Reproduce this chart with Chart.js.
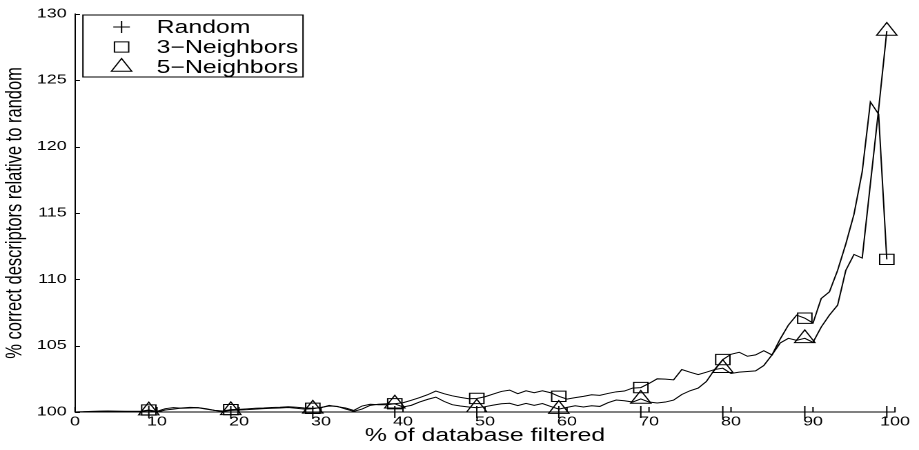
<!DOCTYPE html>
<html>
<head>
<meta charset="utf-8">
<script src="https://cdn.jsdelivr.net/npm/chart.js@4.4.1/dist/chart.umd.min.js"></script>
<style>
html, body { margin: 0; padding: 0; background: #fff; }
</style>
</head>
<body>
<!-- drawn on a narrower canvas and shown wider, so text and markers come out horizontally stretched -->
<canvas id="c" width="666" height="450" style="width:919px;height:450px;display:block"></canvas>
<script>
// ---- data ----
const percentFiltered = [
  0, 1, 2, 3, 4, 5, 6, 7, 8, 9,
  10, 11, 12, 13, 14, 15, 16, 17, 18, 19,
  20, 21, 22, 23, 24, 25, 26, 27, 28, 29,
  30, 31, 32, 33, 34, 35, 36, 37, 38, 39,
  40, 41, 42, 43, 44, 45, 46, 47, 48, 49,
  50, 51, 52, 53, 54, 55, 56, 57, 58, 59,
  60, 61, 62, 63, 64, 65, 66, 67, 68, 69,
  70, 71, 72, 73, 74, 75, 76, 77, 78, 79,
  80, 81, 82, 83, 84, 85, 86, 87, 88, 89,
  90, 91, 92, 93, 94, 95, 96, 97, 98, 99
];

const randomBaseline = [
  100, 100, 100, 100, 100, 100, 100, 100, 100, 100,
  100, 100, 100, 100, 100, 100, 100, 100, 100, 100,
  100, 100, 100, 100, 100, 100, 100, 100, 100, 100,
  100, 100, 100, 100, 100, 100, 100, 100, 100, 100,
  100, 100, 100, 100, 100, 100, 100, 100, 100, 100,
  100, 100, 100, 100, 100, 100, 100, 100, 100, 100,
  100, 100, 100, 100, 100, 100, 100, 100, 100, 100,
  100, 100, 100, 100, 100, 100, 100, 100, 100, 100,
  100, 100, 100, 100, 100, 100, 100, 100, 100, 100,
  100, 100, 100, 100, 100, 100, 100, 100, 100, 100
];

const threeNeighbors = [
  100.00, 100.02, 100.05, 100.07, 100.08, 100.07, 100.06, 100.05, 100.06, 100.15,
  100.05, 100.25, 100.33, 100.28, 100.30, 100.32, 100.22, 100.12, 100.08, 100.18,
  100.20, 100.24, 100.28, 100.30, 100.34, 100.36, 100.40, 100.36, 100.30, 100.28,
  100.32, 100.50, 100.40, 100.30, 100.12, 100.45, 100.58, 100.55, 100.55, 100.62,
  100.70, 100.88, 101.08, 101.30, 101.58, 101.38, 101.22, 101.10, 101.00, 101.02,
  101.15, 101.35, 101.55, 101.65, 101.38, 101.60, 101.45, 101.60, 101.45, 101.18,
  100.97, 101.08, 101.18, 101.30, 101.25, 101.40, 101.52, 101.58, 101.80, 101.84,
  102.15, 102.50, 102.48, 102.42, 103.20, 103.00, 102.82, 103.00, 103.20, 103.95,
  104.35, 104.50, 104.20, 104.30, 104.62, 104.30, 105.50, 106.55, 107.30, 107.07,
  106.70, 108.55, 109.05, 110.67, 112.66, 114.90, 118.10, 123.36, 122.44, 111.50
];

const fiveNeighbors = [
  100.00, 100.02, 100.03, 100.04, 100.05, 100.04, 100.04, 100.05, 100.05, 100.10,
  100.00, 100.15, 100.22, 100.30, 100.35, 100.33, 100.25, 100.12, 100.05, 100.12,
  100.15, 100.18, 100.22, 100.25, 100.28, 100.30, 100.34, 100.28, 100.22, 100.24,
  100.35, 100.45, 100.42, 100.22, 100.05, 100.22, 100.50, 100.58, 100.62, 100.62,
  100.38, 100.50, 100.75, 100.95, 101.12, 100.80, 100.55, 100.45, 100.38, 100.32,
  100.40, 100.52, 100.62, 100.66, 100.48, 100.65, 100.50, 100.64, 100.42, 100.22,
  100.35, 100.47, 100.38, 100.47, 100.42, 100.70, 100.90, 100.85, 100.75, 100.98,
  100.75, 100.68, 100.75, 100.90, 101.32, 101.60, 101.80, 102.30, 103.20, 103.30,
  102.90, 103.00, 103.05, 103.10, 103.50, 104.30, 105.20, 105.55, 105.40, 105.55,
  105.25, 106.40, 107.30, 108.05, 110.67, 111.87, 111.60, 117.20, 122.80, 128.70
];

// every tenth sample carries a marker
const markerIndices = [9, 19, 29, 39, 49, 59, 69, 79, 89, 99];

const xTickValues = [0, 10, 20, 30, 40, 50, 60, 70, 80, 90, 100];
const yTickValues = [100, 105, 110, 115, 120, 125, 130];

const seriesNames = ['Random', '3\u2212Neighbors', '5\u2212Neighbors'];

// ---- styling ----
const FONT = "'Liberation Sans', Arial, Helvetica, sans-serif";
const INK = '#000';

function markerRadius(r) {
  return (ctx) => markerIndices.includes(ctx.dataIndex) ? r : 0;
}

function lineSeries(label, values, style, r) {
  return {
    label: label,
    data: values,
    borderColor: INK,
    borderWidth: 1,
    backgroundColor: 'rgba(0,0,0,0)',
    pointStyle: style,
    pointRadius: markerRadius(r),
    pointBorderColor: INK,
    pointBackgroundColor: 'rgba(0,0,0,0)',
    pointBorderWidth: 1,
    legendRadius: r,
    tension: 0,
    fill: false,
    clip: false
  };
}

// inward tick marks on both axes
const inwardTicks = {
  id: 'inwardTicks',
  afterDatasetsDraw(chart, args, opts) {
    const { ctx, chartArea, scales } = chart;
    ctx.save();
    ctx.strokeStyle = INK;
    ctx.lineWidth = 1;
    ctx.beginPath();
    scales.x.ticks.forEach(t => {
      const px = scales.x.getPixelForValue(t.value);
      ctx.moveTo(px, chartArea.bottom);
      ctx.lineTo(px, chartArea.bottom - opts.xLen);
    });
    scales.y.ticks.forEach(t => {
      const py = Math.round(scales.y.getPixelForValue(t.value)) + 0.5;
      ctx.moveTo(chartArea.left, py);
      ctx.lineTo(chartArea.left + opts.yLen, py);
    });
    ctx.stroke();
    ctx.restore();
  }
};

// boxed legend in the upper-left corner of the plot
const boxedLegend = {
  id: 'boxedLegend',
  afterDraw(chart, args, opts) {
    const ctx = chart.ctx;
    ctx.save();
    ctx.fillStyle = '#fff';
    ctx.fillRect(opts.left, opts.top, opts.width, opts.height);
    ctx.strokeStyle = INK;
    ctx.lineWidth = 1;
    ctx.strokeRect(opts.left, opts.top, opts.width, opts.height);
    chart.data.datasets.forEach((ds, i) => {
      const y = opts.top + opts.firstRow + i * opts.rowGap;
      ctx.strokeStyle = INK;
      ctx.fillStyle = 'rgba(0,0,0,0)';
      ctx.lineWidth = 1;
      Chart.helpers.drawPoint(ctx, {
        pointStyle: ds.pointStyle,
        radius: ds.legendRadius,
        rotation: 0,
        borderWidth: 1
      }, opts.left + opts.symbolX, y);
      ctx.fillStyle = INK;
      ctx.font = opts.font;
      ctx.textBaseline = 'middle';
      ctx.textAlign = 'left';
      ctx.fillText(ds.label, opts.left + opts.textX, y + 1);
    });
    ctx.restore();
  }
};

new Chart(document.getElementById('c'), {
  type: 'line',
  data: {
    labels: percentFiltered,
    datasets: [
      lineSeries(seriesNames[0], randomBaseline, 'cross', 6),
      lineSeries(seriesNames[1], threeNeighbors, 'rect', 7.3),
      lineSeries(seriesNames[2], fiveNeighbors, 'triangle', 8.5)
    ]
  },
  options: {
    responsive: false,
    devicePixelRatio: 2,
    animation: false,
    events: [],
    layout: { padding: { left: 0, right: 17.4, top: 11, bottom: 0 } },
    plugins: {
      legend: { display: false },
      tooltip: { enabled: false },
      inwardTicks: { xLen: 5, yLen: 3.6 },
      boxedLegend: {
        left: 60.1, top: 15, width: 159.5, height: 62,
        firstRow: 12, rowGap: 20, symbolX: 28, textX: 53.4,
        font: "18px " + FONT
      }
    },
    scales: {
      x: {
        type: 'linear',
        min: 0,
        max: 100,
        afterBuildTicks: (s) => { s.ticks = xTickValues.map(v => ({ value: v })); },
        border: { display: true, color: INK, width: 1 },
        grid: { drawOnChartArea: false, drawTicks: false },
        ticks: { autoSkip: false, maxRotation: 0, padding: 2, color: INK, font: { family: FONT, size: 13 } },
        title: {
          display: true, text: '% of database filtered', color: INK,
          font: { family: FONT, size: 18 }, padding: { top: 0, bottom: 3 }
        },
        afterFit: (s) => { s.height = 38; }
      },
      y: {
        type: 'linear',
        min: 100,
        max: 130,
        afterBuildTicks: (s) => { s.ticks = yTickValues.map(v => ({ value: v })); },
        border: { display: true, color: INK, width: 1 },
        grid: { drawOnChartArea: false, drawTicks: false },
        ticks: { padding: 6, color: INK, font: { family: FONT, size: 13 } },
        title: {
          display: true, text: '% correct descriptors relative to random', color: INK,
          font: { family: FONT, size: 16.5 }, padding: { top: 1, bottom: 0 }
        },
        afterFit: (s) => { s.width = 54.35; }
      }
    }
  },
  plugins: [inwardTicks, boxedLegend]
});
</script>
</body>
</html>
